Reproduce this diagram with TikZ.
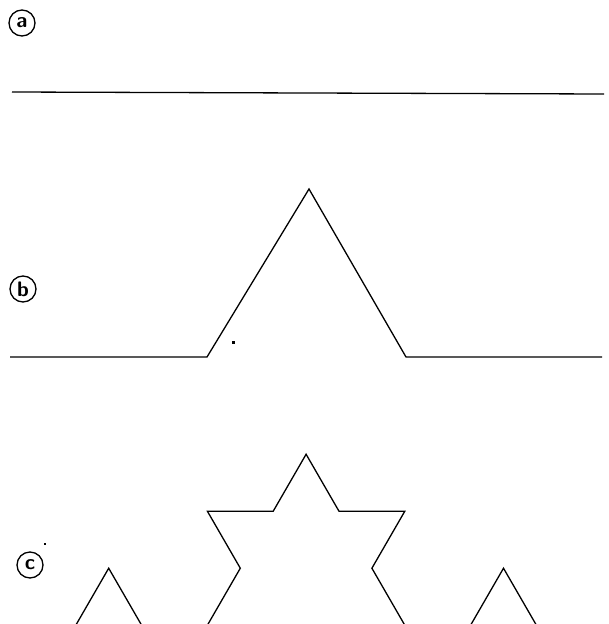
\documentclass[tikz,border=0pt]{standalone}
\begin{document}
\begin{tikzpicture}[x=1pt,y=-1pt,
  curve/.style={line width=1.3pt,line join=miter},
  faint/.style={line width=3pt,draw=black!25},
  label/.style={circle,draw,line width=1.3pt,minimum size=26pt,inner sep=0pt,
    font=\sffamily\bfseries\fontsize{21}{21}\selectfont}]
\useasboundingbox (0,0) rectangle (608,624);
\clip (0,0) rectangle (608,624);
% labels
\node[label] (la) at (22,23) {a};
\node[label] (lb) at (23,289) {b};
\node[label] (lc) at (30,565) {c};
% (a) straight segment
\coordinate (a0) at (12,92);
\coordinate (a1) at (604,94);
\draw[curve] (a0) -- (a1);
% (b) first iteration
\coordinate (b0) at (10,357);
\coordinate (b1) at (207,357);
\coordinate (b2) at (309,189);
\coordinate (b3) at (406,357);
\coordinate (b4) at (602,357);
\draw[curve] (b0) -- (b1) -- (b2) -- (b3) -- (b4);
% (c) second iteration (bottom edge cut off)
\def\L{65.8}
\coordinate (c0) at (10,625.2);
\path (c0) ++(0:\L) coordinate (c1);
\draw[curve] (c1)
  -- ++(-60:\L) -- ++(60:\L) coordinate (c3)
  -- ++(0:\L)
  -- ++(-60:\L) -- ++(-120:\L) -- ++(0:\L) -- ++(-60:\L)
  -- ++(60:\L) -- ++(0:\L) -- ++(120:\L) -- ++(60:\L)
  -- ++(0:\L) coordinate (c13)
  -- ++(-60:\L) -- ++(60:\L) coordinate (c15);
\path (c15) ++(0:\L) coordinate (c16);
\draw[faint] (c0) -- ++(20,0);
\draw[faint] (c15) -- (c16);
% scan specks
\fill (231.5,341) rectangle (235,343.5);
\fill (44,543) rectangle (46,545);
\end{tikzpicture}
\end{document}
